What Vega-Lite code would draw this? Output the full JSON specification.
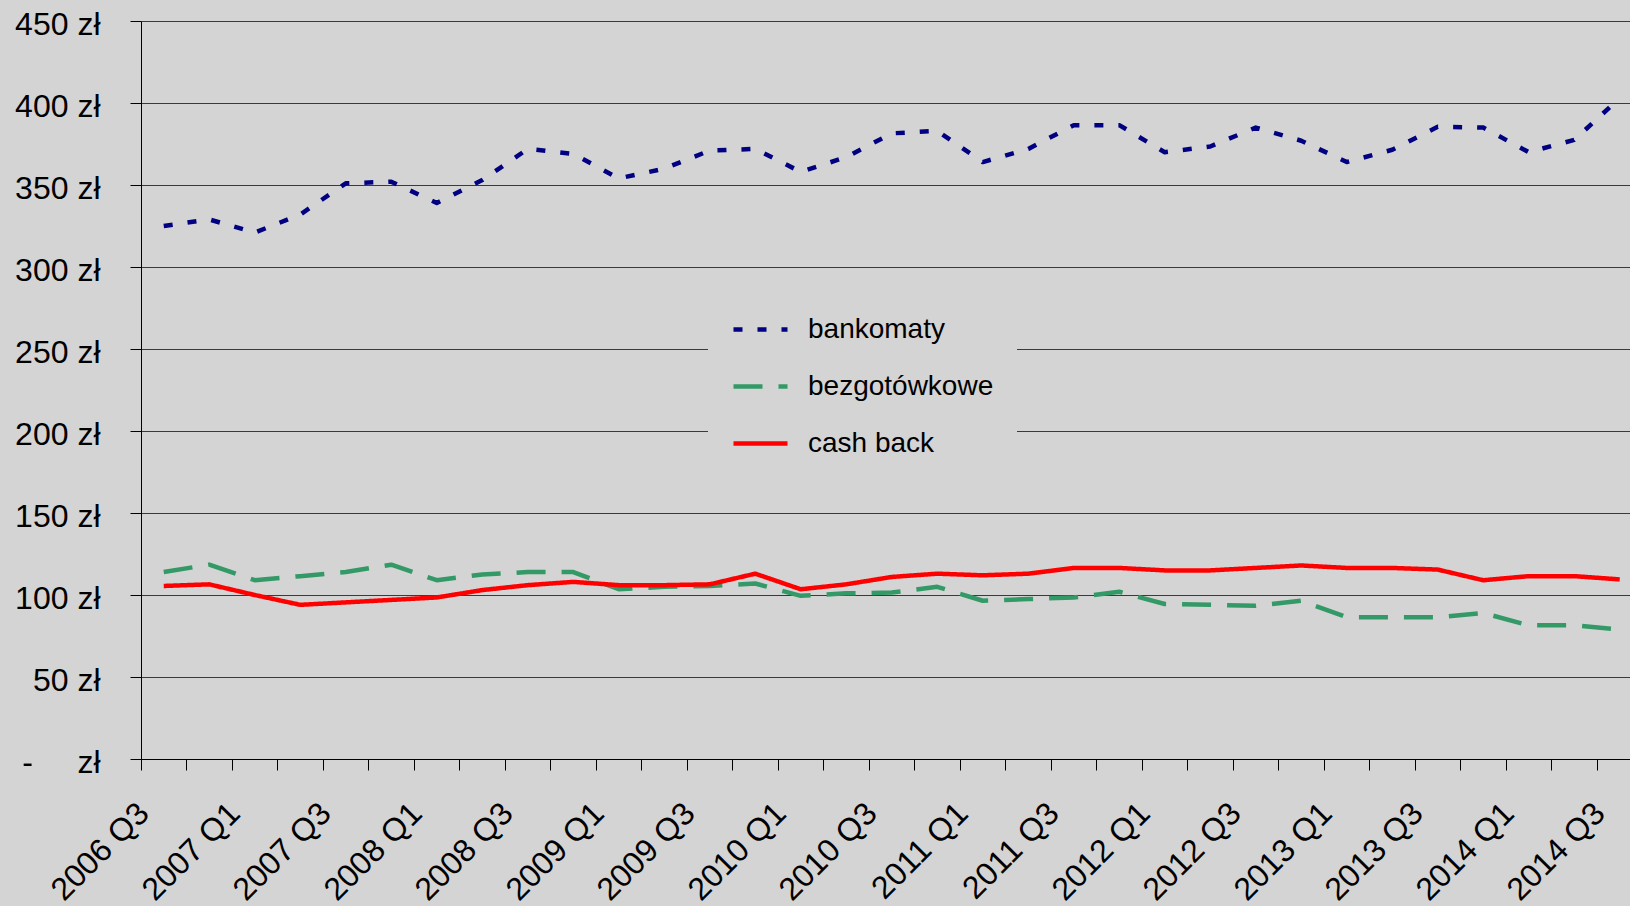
{
  "$schema": "https://vega.github.io/schema/vega-lite/v6.json",
  "autosize": "none",
  "width": 1489,
  "height": 738,
  "padding": {"left": 141, "top": 21, "right": 0, "bottom": 147},
  "background": "#d4d4d4",
  "data": {
    "values": [
      {"q": "2006 Q3", "bankomaty": 325, "bezgotówkowe": 114, "cash back": 105.5},
      {"q": "2006 Q4", "bankomaty": 329, "bezgotówkowe": 118.5, "cash back": 106.5},
      {"q": "2007 Q1", "bankomaty": 321, "bezgotówkowe": 109, "cash back": 100},
      {"q": "2007 Q2", "bankomaty": 332, "bezgotówkowe": 111.5, "cash back": 94},
      {"q": "2007 Q3", "bankomaty": 351, "bezgotówkowe": 114, "cash back": 95.5},
      {"q": "2007 Q4", "bankomaty": 352, "bezgotówkowe": 118.5, "cash back": 97},
      {"q": "2008 Q1", "bankomaty": 339, "bezgotówkowe": 109, "cash back": 98.5},
      {"q": "2008 Q2", "bankomaty": 353, "bezgotówkowe": 112.5, "cash back": 103},
      {"q": "2008 Q3", "bankomaty": 372, "bezgotówkowe": 114, "cash back": 106},
      {"q": "2008 Q4", "bankomaty": 369, "bezgotówkowe": 114, "cash back": 108},
      {"q": "2009 Q1", "bankomaty": 354, "bezgotówkowe": 103.5, "cash back": 106},
      {"q": "2009 Q2", "bankomaty": 360, "bezgotówkowe": 105, "cash back": 106},
      {"q": "2009 Q3", "bankomaty": 371, "bezgotówkowe": 105.5, "cash back": 106.5},
      {"q": "2009 Q4", "bankomaty": 372, "bezgotówkowe": 107, "cash back": 113},
      {"q": "2010 Q1", "bankomaty": 358, "bezgotówkowe": 99.5, "cash back": 103.5},
      {"q": "2010 Q2", "bankomaty": 367, "bezgotówkowe": 101, "cash back": 106.5},
      {"q": "2010 Q3", "bankomaty": 381.5, "bezgotówkowe": 101.5, "cash back": 111},
      {"q": "2010 Q4", "bankomaty": 383, "bezgotówkowe": 105, "cash back": 113},
      {"q": "2011 Q1", "bankomaty": 364, "bezgotówkowe": 96.5, "cash back": 112},
      {"q": "2011 Q2", "bankomaty": 372, "bezgotówkowe": 97.5, "cash back": 113},
      {"q": "2011 Q3", "bankomaty": 386.5, "bezgotówkowe": 98.5, "cash back": 116.5},
      {"q": "2011 Q4", "bankomaty": 386.5, "bezgotówkowe": 102, "cash back": 116.5},
      {"q": "2012 Q1", "bankomaty": 370, "bezgotówkowe": 94.5, "cash back": 115},
      {"q": "2012 Q2", "bankomaty": 373.5, "bezgotówkowe": 94, "cash back": 115},
      {"q": "2012 Q3", "bankomaty": 385, "bezgotówkowe": 93.5, "cash back": 116.5},
      {"q": "2012 Q4", "bankomaty": 377, "bezgotówkowe": 96.5, "cash back": 118},
      {"q": "2013 Q1", "bankomaty": 364, "bezgotówkowe": 86.5, "cash back": 116.5},
      {"q": "2013 Q2", "bankomaty": 371.5, "bezgotówkowe": 86.5, "cash back": 116.5},
      {"q": "2013 Q3", "bankomaty": 385.5, "bezgotówkowe": 86.5, "cash back": 115.5},
      {"q": "2013 Q4", "bankomaty": 385, "bezgotówkowe": 89, "cash back": 109},
      {"q": "2014 Q1", "bankomaty": 370, "bezgotówkowe": 81.5, "cash back": 111.5},
      {"q": "2014 Q2", "bankomaty": 377.5, "bezgotówkowe": 81.5, "cash back": 111.5},
      {"q": "2014 Q3", "bankomaty": 403, "bezgotówkowe": 79, "cash back": 109.5}
    ]
  },
  "transform": [
    {"fold": ["bankomaty", "bezgotówkowe", "cash back"], "as": ["seria", "v"]}
  ],
  "mark": {"type": "line", "strokeWidth": 4.5, "strokeCap": "butt", "strokeJoin": "round"},
  "encoding": {
    "x": {
      "field": "q",
      "type": "ordinal",
      "sort": null,
      "scale": {"type": "band", "range": [0, 1501.5], "paddingInner": 0, "paddingOuter": 0},
      "axis": {
        "title": null,
        "bandPosition": 0,
        "tickSize": 11,
        "tickColor": "black",
        "domainColor": "black",
        "labelAngle": -45,
        "labelAlign": "right",
        "labelBaseline": "alphabetic",
        "labelOffset": -13,
        "labelPadding": 45,
        "labelFontSize": 32,
        "labelFont": "Liberation Sans",
        "labelColor": "black",
        "labelOverlap": false,
        "labelBound": false,
        "labelFlush": false,
        "grid": false,
        "labelExpr": "indexof(datum.label, 'Q1') >= 0 || indexof(datum.label, 'Q3') >= 0 ? datum.label : ''"
      }
    },
    "y": {
      "field": "v",
      "type": "quantitative",
      "scale": {"domain": [0, 450], "nice": false, "zero": true},
      "axis": {
        "title": null,
        "values": [0, 50, 100, 150, 200, 250, 300, 350, 400, 450],
        "tickSize": 11,
        "tickColor": "black",
        "domainColor": "black",
        "grid": true,
        "gridColor": "#3a3a3a",
        "gridWidth": 1,
        "labelPadding": 30,
        "labelFontSize": 32,
        "labelFont": "Liberation Sans",
        "labelColor": "black",
        "labelBaseline": "alphabetic",
        "labelOffset": 13,
        "labelBound": false,
        "labelFlush": false,
        "labelOverlap": false,
        "labelExpr": "datum.value == 0 ? '-\u00a0\u00a0\u00a0\u00a0\u00a0zł' : datum.value + ' zł'"
      }
    },
    "color": {
      "field": "seria",
      "type": "nominal",
      "scale": {"domain": ["bankomaty", "bezgotówkowe", "cash back"], "range": ["#000080", "#339966", "#ff0000"]},
      "legend": {
        "orient": "none",
        "legendX": 567,
        "legendY": 256,
        "title": null,
        "symbolType": "stroke",
        "symbolSize": 2916,
        "symbolStrokeWidth": 4.5,
        "labelFontSize": 28,
        "labelFont": "Liberation Sans",
        "labelColor": "black",
        "labelLimit": 500,
        "fillColor": "#d4d4d4",
        "padding": 23,
        "rowPadding": 13,
        "labelOffset": 18
      }
    },
    "strokeDash": {
      "field": "seria",
      "type": "nominal",
      "scale": {"domain": ["bankomaty", "bezgotówkowe", "cash back"], "range": [[9, 15], [29, 16], [1, 0]]},
      "legend": {
        "orient": "none",
        "legendX": 567,
        "legendY": 256,
        "title": null,
        "symbolType": "stroke",
        "symbolSize": 2916,
        "symbolStrokeWidth": 4.5,
        "labelFontSize": 28,
        "labelFont": "Liberation Sans",
        "labelColor": "black",
        "labelLimit": 500,
        "fillColor": "#d4d4d4",
        "padding": 23,
        "rowPadding": 13,
        "labelOffset": 18
      }
    }
  },
  "config": {
    "view": {"stroke": null},
    "axis": {"domainWidth": 1, "tickWidth": 1}
  }
}
